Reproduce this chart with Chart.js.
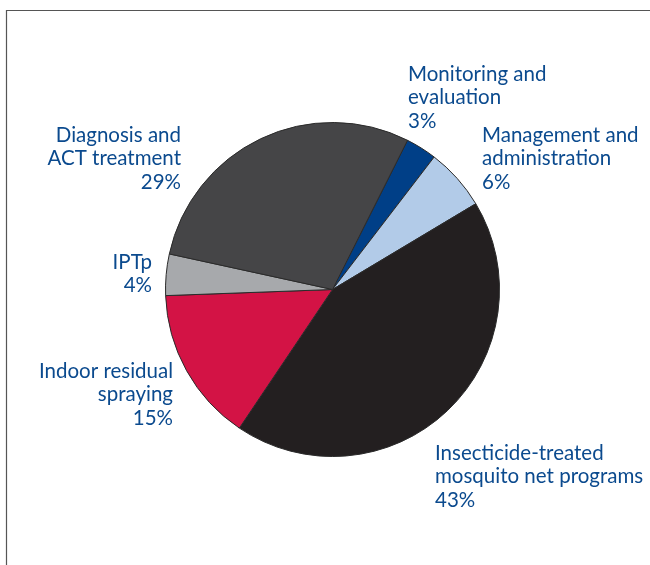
<!DOCTYPE html>
<html>
<head>
<meta charset="utf-8">
<script src="https://cdn.jsdelivr.net/npm/chart.js@4"></script>
<style>
  body { margin: 0; background: #fff; }
  #wrap { width: 650px; height: 565px; }
</style>
</head>
<body>
<div id="wrap"><canvas id="pieChart" width="650" height="565"></canvas></div>
<script>
// data, clockwise starting from the Monitoring slice
const categories = [
  ['Monitoring and', 'evaluation'],
  ['Management and', 'administration'],
  ['Insecticide-treated', 'mosquito net programs'],
  ['Indoor residual', 'spraying'],
  ['IPTp'],
  ['Diagnosis and', 'ACT treatment']
];
const shares = [3, 6, 43, 15, 4, 29];
const sliceColors = ['#003f87', '#b2cbe8', '#231f20', '#d31345', '#a7a9ac', '#454547'];

// where each label block sits (x, y of first line centre, alignment)
const labelSpots = [
  { x: 408, y: 74, align: 'left' },
  { x: 482, y: 135, align: 'left' },
  { x: 435, y: 453, align: 'left' },
  { x: 173, y: 371, align: 'right' },
  { x: 152, y: 262, align: 'right' },
  { x: 181, y: 135, align: 'right' }
];

const frame = {
  id: 'frame',
  beforeDraw(chart) {
    const c = chart.ctx;
    c.save();
    c.strokeStyle = '#555';
    c.lineWidth = 1.2;
    c.beginPath();
    c.moveTo(6.5, 565);
    c.lineTo(6.5, 10.5);
    c.lineTo(650, 10.5);
    c.stroke();
    c.restore();
  }
};

const sliceLabels = {
  id: 'sliceLabels',
  afterDraw(chart) {
    const c = chart.ctx;
    c.save();
    c.fillStyle = '#0b4a8e';
    c.font = '20.5px Lato';
    c.textBaseline = 'middle';
    categories.forEach((lines, i) => {
      const spot = labelSpots[i];
      c.textAlign = spot.align;
      const all = lines.concat([shares[i] + '%']);
      all.forEach((t, j) => {
        c.fillText(t, spot.x, spot.y + j * 23.7);
      });
    });
    c.restore();
  }
};

const ctx = document.getElementById('pieChart').getContext('2d');
const pieChart = new Chart(ctx, {
  type: 'pie',
  data: {
    labels: categories.map(l => l.join(' ')),
    datasets: [{
      data: shares,
      backgroundColor: sliceColors,
      borderColor: '#2a2a2a',
      borderWidth: 1
    }]
  },
  options: {
    responsive: false,
    animation: false,
    rotation: 26.7,
    layout: { padding: { left: 165, right: 150, top: 122, bottom: 108 } },
    plugins: {
      legend: { display: false },
      tooltip: { enabled: false }
    }
  },
  plugins: [frame, sliceLabels]
});
</script>
</body>
</html>
